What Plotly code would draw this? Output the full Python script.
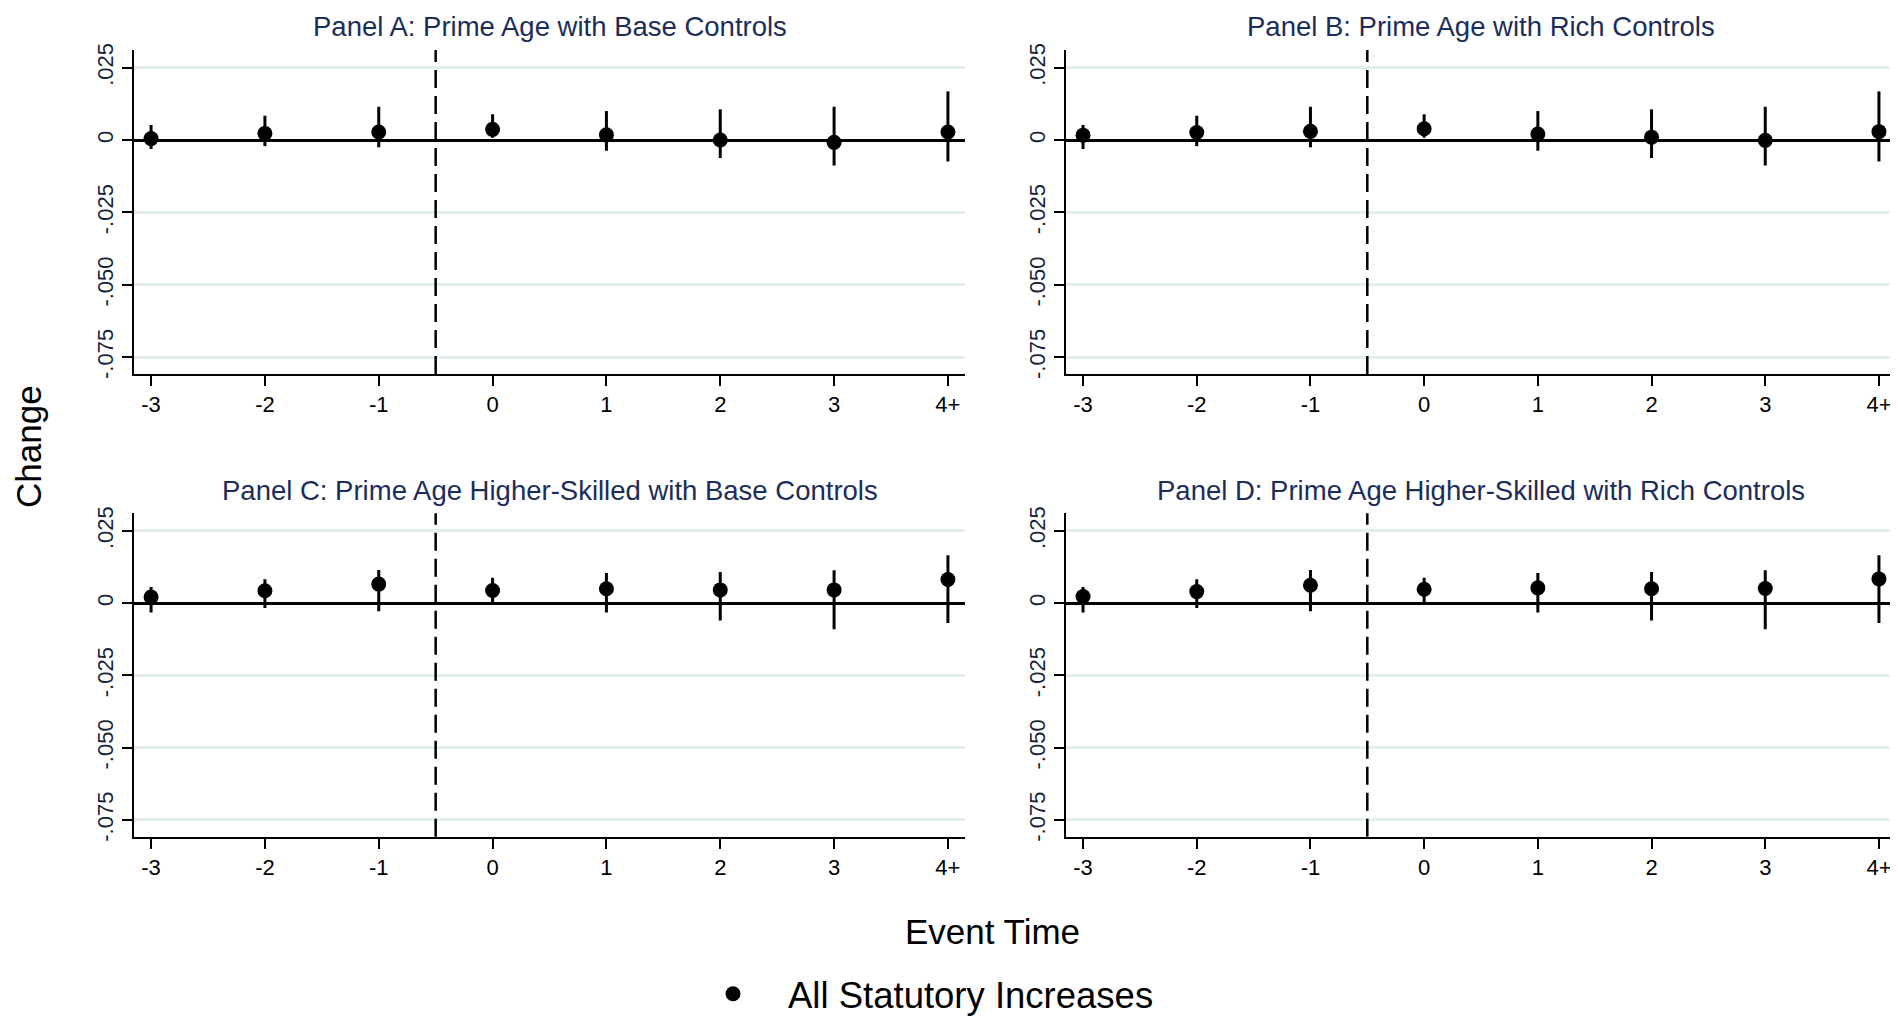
import plotly.graph_objects as go

# ---------------- data ----------------
event_pos = [-3, -2, -1, 0, 1, 2, 3, 4]
event_labels = ["-3", "-2", "-1", "0", "1", "2", "3", "4+"]
treat_boundary = -0.5

y_tickvals = [0.025, 0.0, -0.025, -0.05, -0.075]
y_ticktext = [".025", "0", "-.025", "-.050", "-.075"]

panel_titles = [
    "Panel A: Prime Age with Base Controls",
    "Panel B: Prime Age with Rich Controls",
    "Panel C: Prime Age Higher-Skilled with Base Controls",
    "Panel D: Prime Age Higher-Skilled with Rich Controls",
]

coef_a = [0.0005, 0.0023, 0.0028, 0.0037, 0.0018, 0.0000, -0.0008, 0.0028]
lo_a = [-0.0031, -0.0021, -0.0025, 0.0008, -0.0037, -0.0062, -0.0088, -0.0074]
hi_a = [0.0052, 0.0084, 0.0115, 0.0089, 0.0100, 0.0106, 0.0115, 0.0168]

coef_b = [0.0017, 0.0026, 0.0030, 0.0039, 0.0021, 0.0010, -0.0001, 0.0029]
lo_b = [-0.0031, -0.0021, -0.0025, 0.0008, -0.0037, -0.0062, -0.0088, -0.0074]
hi_b = [0.0052, 0.0084, 0.0115, 0.0089, 0.0100, 0.0106, 0.0115, 0.0168]

coef_c = [0.0021, 0.0043, 0.0066, 0.0044, 0.0050, 0.0046, 0.0046, 0.0082]
lo_c = [-0.0032, -0.0017, -0.0028, 0.0000, -0.0032, -0.0060, -0.0090, -0.0069]
hi_c = [0.0056, 0.0083, 0.0115, 0.0088, 0.0104, 0.0108, 0.0114, 0.0166]

coef_d = [0.0023, 0.0040, 0.0062, 0.0048, 0.0053, 0.0050, 0.0051, 0.0084]
lo_d = [-0.0032, -0.0017, -0.0028, 0.0000, -0.0032, -0.0060, -0.0090, -0.0069]
hi_d = [0.0056, 0.0083, 0.0115, 0.0088, 0.0104, 0.0108, 0.0114, 0.0166]

series_name = "All Statutory Increases"

# ---------------- layout geometry ----------------
# page has an 8px body margin, so the figure is sized to fit the window
OFF = 8
W, H = 1898 - OFF, 1016 - OFF
FONT = "Liberation Sans, Arial, sans-serif"
TITLE_COLOR = "#1c2d5a"
GRID_COLOR = "#e4edf0"


def px_x(v):
    return (v - OFF) / W


def px_y(v):
    return 1 - (v - OFF) / H


x_domains = [[px_x(134), px_x(965)], [px_x(1066), px_x(1896)]]
y_domains = [[px_y(374), px_y(50)], [px_y(836.7), px_y(513.3)]]

panels = [
    (coef_a, lo_a, hi_a, 0, 0),
    (coef_b, lo_b, hi_b, 1, 0),
    (coef_c, lo_c, hi_c, 0, 1),
    (coef_d, lo_d, hi_d, 1, 1),
]

fig = go.Figure()
annotations = []
shapes = []
layout_axes = {}

for i, (coef, lo, hi, col, row) in enumerate(panels):
    k = "" if i == 0 else str(i + 1)
    plus = [h - c for h, c in zip(hi, coef)]
    minus = [c - l for c, l in zip(coef, lo)]
    fig.add_trace(go.Scatter(
        x=event_pos, y=coef, mode="markers",
        name=series_name, showlegend=(i == 0),
        marker=dict(color="black", size=15),
        error_y=dict(type="data", symmetric=False, array=plus, arrayminus=minus,
                     color="black", thickness=3, width=0),
        xaxis="x" + k, yaxis="y" + k,
    ))
    layout_axes["xaxis" + k] = dict(
        domain=x_domains[col], anchor="y" + k, range=[-3.15, 4.15],
        tickmode="array", tickvals=event_pos, ticktext=event_labels,
        showgrid=False, zeroline=False, showline=True, linecolor="black", linewidth=2,
        ticks="outside", ticklen=10, tickwidth=2, tickcolor="black",
        tickfont=dict(family=FONT, size=22, color="black"),
    )
    layout_axes["yaxis" + k] = dict(
        domain=y_domains[row], anchor="x" + k, range=[-0.0808, 0.0311],
        tickmode="array", tickvals=y_tickvals, ticktext=y_ticktext, tickangle=-90,
        showgrid=True, gridcolor=GRID_COLOR, gridwidth=2.5,
        zeroline=True, zerolinecolor="black", zerolinewidth=3,
        showline=True, linecolor="black", linewidth=2,
        ticks="outside", ticklen=10, tickwidth=2, tickcolor="black",
        tickfont=dict(family=FONT, size=22, color="#1a1f3a"),
    )
    shapes.append(dict(type="line", xref="x" + k, yref="y" + k + " domain",
                       x0=treat_boundary, x1=treat_boundary, y0=0, y1=1,
                       line=dict(color="black", width=2.5, dash="18px,8px")))
    annotations.append(dict(
        text=panel_titles[i], xref="paper", yref="paper",
        x=sum(x_domains[col]) / 2, y=y_domains[row][1] + 23 / H,
        xanchor="center", yanchor="middle", showarrow=False,
        font=dict(family=FONT, size=27.5, color=TITLE_COLOR),
    ))

annotations.append(dict(text="Event Time", xref="paper", yref="paper",
                        x=px_x(992), y=px_y(931), xanchor="center", yanchor="middle",
                        showarrow=False, font=dict(family=FONT, size=35, color="black")))
annotations.append(dict(text="Change", xref="paper", yref="paper",
                        x=px_x(28), y=px_y(447), xanchor="center", yanchor="middle",
                        textangle=-90, showarrow=False,
                        font=dict(family=FONT, size=35, color="black")))

fig.update_layout(
    width=W, height=H,
    margin=dict(l=0, r=0, t=0, b=0, autoexpand=False),
    paper_bgcolor="white", plot_bgcolor="white",
    showlegend=True,
    legend=dict(orientation="h", x=px_x(678), xanchor="left", y=px_y(994), yanchor="middle",
                font=dict(family=FONT, size=36.5, color="black"),
                bgcolor="rgba(0,0,0,0)", itemwidth=100),
    annotations=annotations, shapes=shapes,
    **layout_axes,
)

fig.write_html("out.html")
